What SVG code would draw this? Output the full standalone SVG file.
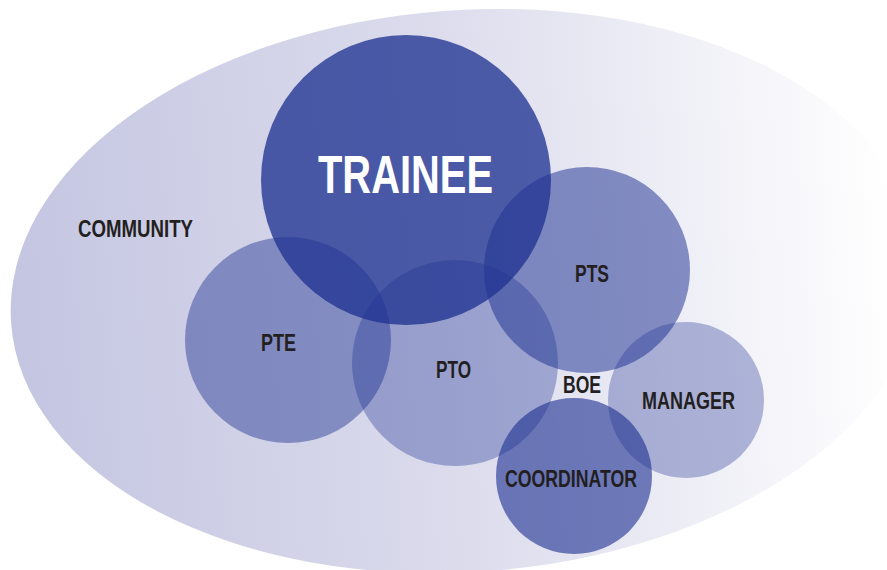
<svg xmlns="http://www.w3.org/2000/svg" width="887" height="570" viewBox="0 0 887 570">
  <defs>
    <linearGradient id="bgGrad" gradientUnits="userSpaceOnUse" x1="12" y1="0" x2="895" y2="0">
      <stop offset="0" stop-color="#c4c5e1"/>
      <stop offset="0.5" stop-color="#dcdced"/>
      <stop offset="1" stop-color="#ffffff"/>
    </linearGradient>
  </defs>
  <style>
    .c { fill: #1e3291; }
    .lbl { font-family: "Liberation Sans", Arial, sans-serif; font-weight: bold; fill: #231f20; font-size: 24px; }
    .big { font-family: "Liberation Sans", Arial, sans-serif; font-weight: bold; fill: #ffffff; font-size: 53px; }
  </style>
  <rect width="887" height="570" fill="#ffffff"/>
  <g id="community">
    <ellipse cx="466" cy="291" rx="456" ry="281" transform="rotate(-4 466 291)" fill="url(#bgGrad)"/>
    <text class="lbl" x="78" y="237" textLength="115" lengthAdjust="spacingAndGlyphs">COMMUNITY</text>
  </g>
  <g id="pte">
    <circle class="c" cx="288" cy="340" r="103" fill-opacity="0.45"/>
  </g>
  <g id="pto">
    <circle class="c" cx="455" cy="363" r="103" fill-opacity="0.35"/>
  </g>
  <g id="pts">
    <circle class="c" cx="587" cy="270" r="103" fill-opacity="0.52"/>
  </g>
  <g id="manager">
    <circle class="c" cx="686" cy="400" r="78" fill-opacity="0.33"/>
  </g>
  <g id="coordinator">
    <circle class="c" cx="574" cy="476" r="78" fill-opacity="0.62"/>
  </g>
  <g id="trainee">
    <circle class="c" cx="406" cy="180" r="145" fill-opacity="0.77"/>
  </g>
  <g id="labels">
    <text class="big" x="318" y="193" textLength="175" lengthAdjust="spacingAndGlyphs">TRAINEE</text>
    <text class="lbl" x="261" y="351" textLength="35" lengthAdjust="spacingAndGlyphs">PTE</text>
    <text class="lbl" x="436" y="378" textLength="35" lengthAdjust="spacingAndGlyphs">PTO</text>
    <text class="lbl" x="575" y="282" textLength="34" lengthAdjust="spacingAndGlyphs">PTS</text>
    <text class="lbl" x="563" y="393" textLength="38" lengthAdjust="spacingAndGlyphs">BOE</text>
    <text class="lbl" x="642" y="409" textLength="93" lengthAdjust="spacingAndGlyphs">MANAGER</text>
    <text class="lbl" x="505" y="487" textLength="132" lengthAdjust="spacingAndGlyphs">COORDINATOR</text>
  </g>
</svg>
